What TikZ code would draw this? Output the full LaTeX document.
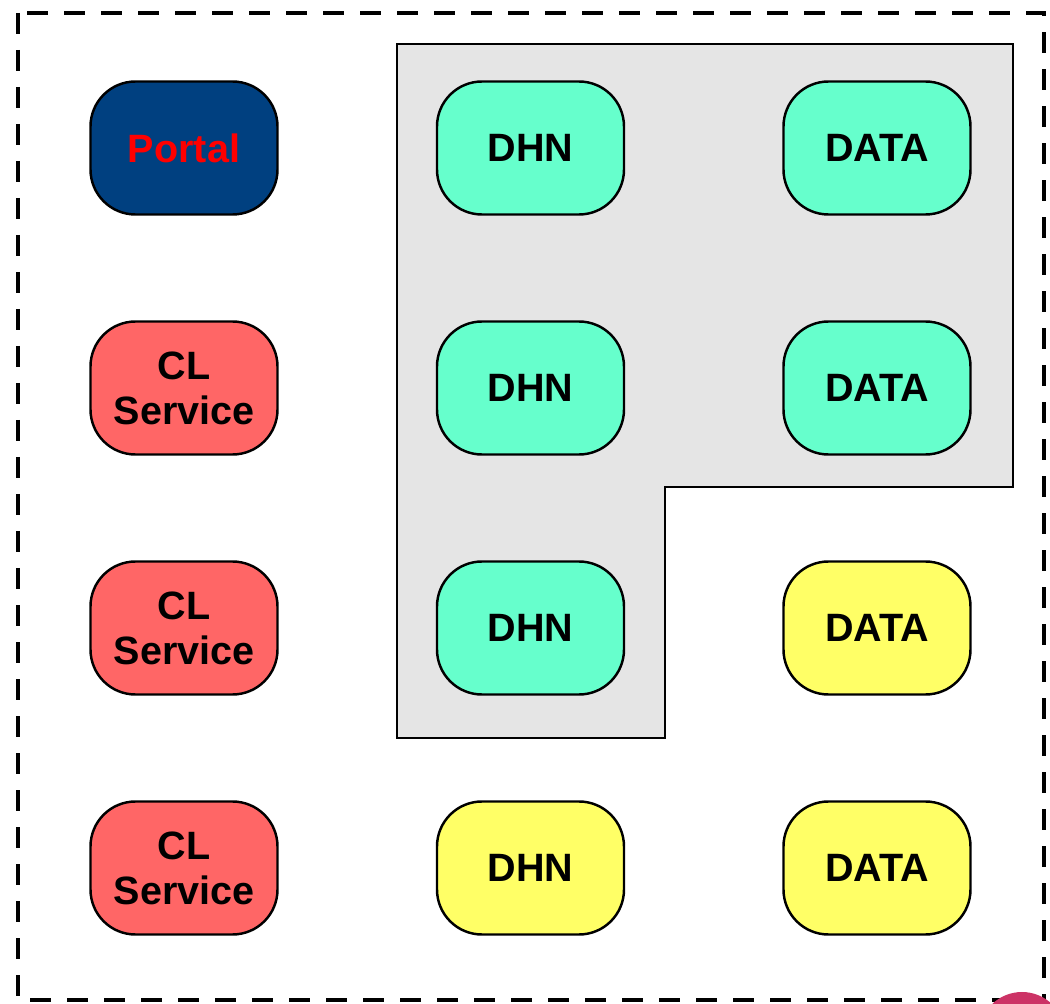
\documentclass[tikz,border=0pt]{standalone}
\usepackage{fontspec}
\setmainfont{Liberation Sans}
\usetikzlibrary{shapes}

\definecolor{portalblue}{RGB}{0,64,128}
\definecolor{clred}{RGB}{255,102,102}
\definecolor{dhngreen}{RGB}{102,255,204}
\definecolor{freeyellow}{RGB}{255,255,102}
\definecolor{zonegray}{RGB}{229,229,229}
\definecolor{markpink}{RGB}{204,51,102}

\begin{document}
\begin{tikzpicture}
    \tikzstyle{n}=[rectangle, rounded corners=0.9cm, draw, line width=1.4pt, minimum width=3.74cm, minimum height=2.66cm, align=center, font=\fontsize{22.5}{25.5}\selectfont\bfseries]
    \tikzstyle{zone}=[draw, line width=1pt, fill=zonegray]

    \def\dx{6.93}
    \def\dy{4.8}

    \useasboundingbox (0,0) rectangle (21,20.08);

    % outer frame
    \draw[line width=2.7pt, dash pattern=on 0.42cm off 0.32cm] (0.36,19.82) rectangle (20.88,0.08);

    % shared zone
    \draw[zone] (7.94,19.2) -- (20.26,19.2) -- (20.26,10.34) -- (13.3,10.34)
        -- (13.3,5.32) -- (7.94,5.32) -- cycle;

    \node[n, fill=portalblue, text=red] (portal) at (3.68,17.12) {Portal};
    \node[n, fill=clred] (clA) at (3.68,17.12-\dy) {CL\\Service};
    \node[n, fill=clred] (clB) at (3.68,17.12-2*\dy) {CL\\Service};
    \node[n, fill=clred] (clC) at (3.68,17.12-3*\dy) {CL\\Service};

    \node[n, fill=dhngreen] (dhnA) at (3.68+\dx,17.12) {DHN};
    \node[n, fill=dhngreen] (dhnB) at (3.68+\dx,17.12-\dy) {DHN};
    \node[n, fill=dhngreen] (dhnC) at (3.68+\dx,17.12-2*\dy) {DHN};
    \node[n, fill=freeyellow] (dhnD) at (3.68+\dx,17.12-3*\dy) {DHN};

    \node[n, fill=dhngreen] (dataA) at (3.68+2*\dx,17.12) {DATA};
    \node[n, fill=dhngreen] (dataB) at (3.68+2*\dx,17.12-\dy) {DATA};
    \node[n, fill=freeyellow] (dataC) at (3.68+2*\dx,17.12-2*\dy) {DATA};
    \node[n, fill=freeyellow] (dataD) at (3.68+2*\dx,17.12-3*\dy) {DATA};

    % corner mark
    \fill[markpink] (20.44,-0.62) circle (0.86cm);

\end{tikzpicture}
\end{document}
